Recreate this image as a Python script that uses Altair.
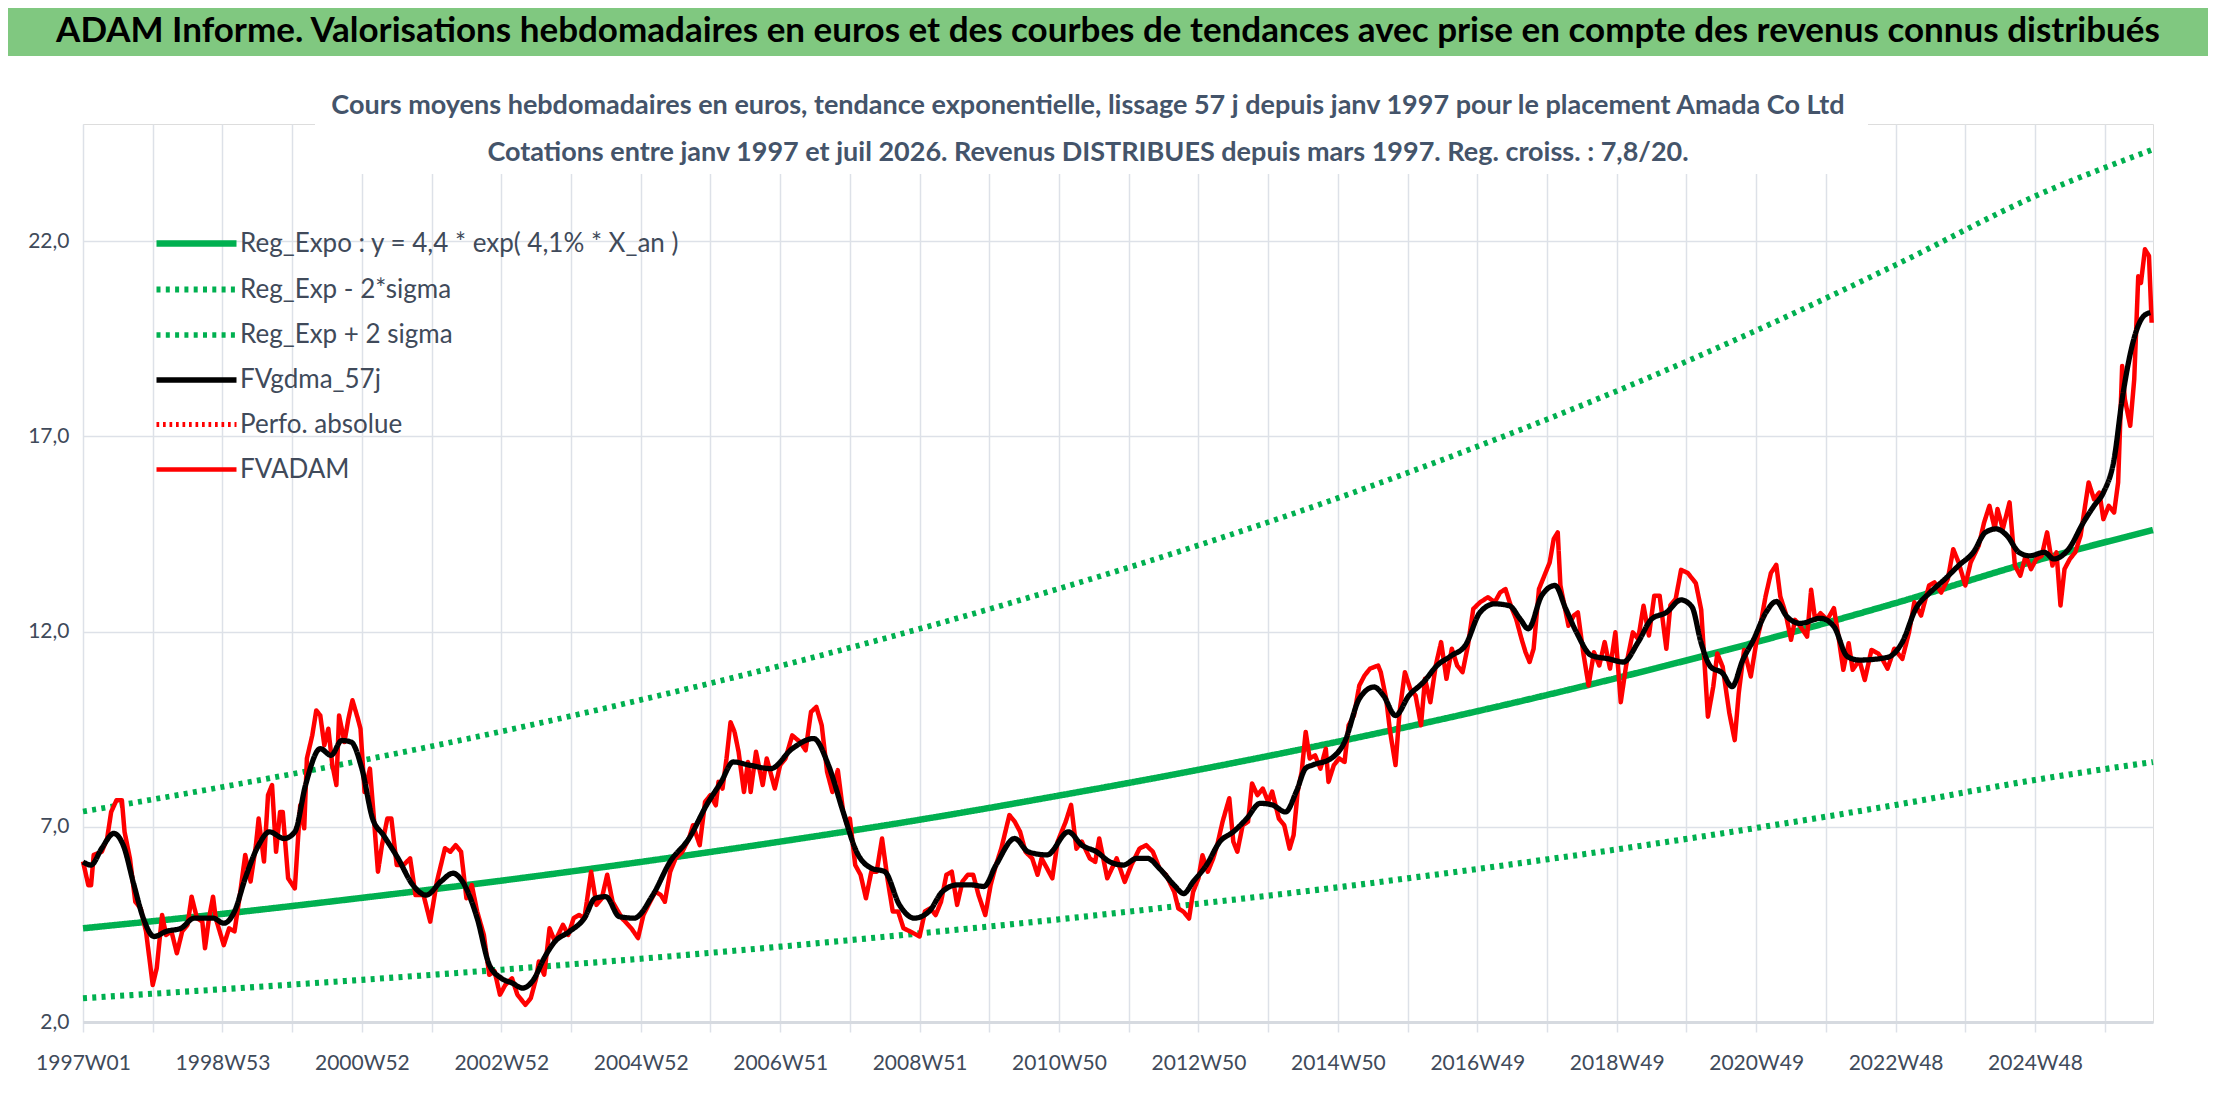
import json
import altair as alt
import pandas as pd

# texts
title_text = "ADAM Informe. Valorisations hebdomadaires en euros et des courbes de tendances avec prise en compte des revenus connus distribués"
subtitle_1 = "Cours moyens hebdomadaires en euros, tendance exponentielle, lissage 57 j depuis janv 1997 pour le placement Amada Co Ltd"
subtitle_2 = "Cotations entre janv 1997 et juil 2026. Revenus DISTRIBUES depuis mars 1997. Reg. croiss. : 7,8/20."

# x axis: week index since 1997W01, a label every 104 weeks
x_labels = ["1997W01", "1998W53", "2000W52", "2002W52", "2004W52", "2006W51", "2008W51",
            "2010W50", "2012W50", "2014W50", "2016W49", "2018W49", "2020W49", "2022W48", "2024W48"]
y_ticks = [2, 7, 12, 17, 22]

series_names = ["Reg_Expo : y = 4,4 * exp( 4,1% *  X_an )", "Reg_Exp - 2*sigma", "Reg_Exp + 2 sigma",
                "FVgdma_57j", "Perfo. absolue", "FVADAM"]
series_colors = ["#00b050", "#00b050", "#00b050", "#000000", "#ff0000", "#ff0000"]
series_widths = [6.5, 4.5, 4.5, 4.5, 2.8, 7]
series_dash = [[1, 0], [4, 5.3], [4, 5.3], [1, 0], [2.7, 3.8], [1, 0]]

# trend curves (read at every label position)
trend_weeks = [0, 104, 208, 312, 416, 520, 624, 728, 832, 936, 1040, 1144, 1248, 1352, 1456, 1544]
trend_mid = [4.40, 4.77, 5.18, 5.62, 6.10, 6.62, 7.18, 7.80, 8.46, 9.18, 9.96, 10.81, 11.73, 12.73, 13.81, 14.60]
trend_low = [2.61, 2.84, 3.08, 3.34, 3.62, 3.93, 4.27, 4.63, 5.03, 5.45, 5.92, 6.42, 6.97, 7.56, 8.20, 8.66]
trend_high = [7.39, 8.02, 8.70, 9.44, 10.25, 11.12, 12.07, 13.10, 14.21, 15.42, 16.74, 18.16, 19.71, 21.39, 23.15, 24.35]

# FVADAM weekly prices (sampled)
adam_weeks = [0, 4, 6, 8, 14, 18, 21, 25, 29, 31, 35, 39, 43, 47, 52, 55, 59, 62, 66, 70, 74, 78, 81, 85, 89, 91,
              94, 97, 99, 105, 109, 113, 117, 121, 125, 129, 131, 135, 138, 141, 144, 147, 149, 153, 158, 162, 165,
              167, 171, 174, 177, 180, 183, 186, 189, 191, 195, 198, 201, 205, 207, 210, 214, 217, 220, 223, 227,
              230, 234, 239, 244, 248, 254, 259, 264, 270, 274, 278, 282, 286, 290, 294, 299, 303, 307, 311, 315,
              320, 324, 330, 334, 338, 340, 344, 348, 352, 358, 362, 366, 370, 374, 379, 383, 387, 391, 395, 402,
              409, 414, 418, 423, 427, 431, 434, 438, 442, 447, 452, 455, 460, 464, 468, 472, 474, 477, 480, 483,
              486, 489, 493, 496, 498, 502, 507, 510, 516, 520, 524, 529, 535, 539, 543, 547, 551, 555, 559, 563,
              567, 570, 572, 576, 580, 584, 588, 592, 596, 600, 604, 608, 612, 617, 624, 628, 632, 636, 640, 644,
              648, 652, 656, 660, 664, 668, 673, 677, 681, 685, 691, 695, 699, 703, 708, 712, 715, 719, 723, 727,
              733, 737, 741, 745, 751, 755, 758, 764, 771, 777, 782, 788, 793, 798, 803, 808, 814, 817, 821, 825,
              828, 832, 835, 839, 843, 846, 850, 855, 858, 861, 865, 869, 872, 876, 880, 884, 887, 892, 896, 900,
              903, 906, 909, 912, 915, 919, 923, 927, 929, 933, 937, 941, 944, 948, 952, 956, 960, 966, 968, 972,
              975, 979, 982, 986, 990, 994, 998, 1001, 1005, 1009, 1013, 1017, 1021, 1025, 1029, 1033, 1037, 1042,
              1048, 1053, 1057, 1061, 1065, 1069, 1073, 1076, 1079, 1082, 1086, 1090, 1094, 1097, 1100, 1102, 1105,
              1108, 1112, 1115, 1119, 1123, 1127, 1131, 1135, 1139, 1143, 1147, 1151, 1156, 1160, 1164, 1168, 1172,
              1176, 1181, 1184, 1188, 1192, 1197, 1203, 1207, 1212, 1216, 1219, 1223, 1228, 1232, 1235, 1239, 1244,
              1248, 1251, 1255, 1259, 1263, 1266, 1270, 1274, 1277, 1281, 1286, 1289, 1292, 1296, 1301, 1306, 1309,
              1313, 1317, 1320, 1325, 1329, 1334, 1339, 1342, 1346, 1351, 1357, 1362, 1366, 1371, 1377, 1381, 1386,
              1391, 1395, 1399, 1404, 1408, 1414, 1418, 1422, 1426, 1428, 1432, 1437, 1441, 1445, 1449, 1453, 1457,
              1461, 1465, 1469, 1472, 1475, 1478, 1482, 1486, 1490, 1493, 1496, 1500, 1504, 1507, 1511, 1515, 1518,
              1521, 1523, 1527, 1530, 1533, 1535, 1538, 1541, 1543]
adam_vals = [6.11, 5.50, 5.50, 6.28, 6.36, 6.70, 7.38, 7.68, 7.68, 6.87, 6.19, 5.08, 4.91, 4.32, 2.95, 3.38, 4.74,
             4.23, 4.32, 3.76, 4.32, 4.49, 5.21, 4.66, 4.57, 3.89, 4.66, 5.21, 4.66, 3.97, 4.40, 4.32, 5.25, 6.28,
             5.60, 6.53, 7.21, 6.11, 7.81, 8.07, 6.36, 7.38, 7.38, 5.68, 5.42, 7.55, 6.96, 8.75, 9.34, 9.98, 9.85,
             9.09, 9.51, 8.58, 8.07, 9.85, 9.17, 9.77, 10.24, 9.77, 9.51, 7.89, 8.49, 7.21, 5.85, 6.53, 7.21, 7.21,
             6.02, 6.02, 6.19, 5.25, 5.25, 4.57, 5.60, 6.45, 6.36, 6.53, 6.36, 5.17, 5.51, 4.83, 4.23, 3.21, 3.30,
             2.70, 2.95, 3.12, 2.70, 2.44, 2.61, 3.12, 3.55, 3.21, 4.40, 4.06, 4.49, 4.23, 4.66, 4.74, 4.66, 5.85,
             5.00, 5.17, 5.77, 5.08, 4.66, 4.40, 4.15, 4.74, 5.08, 5.34, 5.25, 5.08, 5.85, 6.19, 6.36, 6.70, 7.04,
             6.53, 7.64, 7.81, 7.55, 8.15, 7.98, 8.75, 9.68, 9.43, 8.92, 7.89, 8.66, 7.89, 8.92, 8.07, 8.75, 7.98,
             8.58, 8.75, 9.34, 9.17, 8.96, 9.94, 10.07, 9.60, 8.41, 7.89, 8.45, 7.38, 7.04, 7.21, 6.02, 5.77, 5.17,
             5.85, 5.85, 6.70, 5.68, 4.83, 4.83, 4.40, 4.32, 4.19, 4.83, 4.91, 4.74, 5.08, 5.77, 5.85, 5.00, 5.60,
             5.77, 5.77, 5.25, 4.74, 5.51, 6.02, 6.45, 7.30, 7.13, 6.87, 6.36, 6.19, 5.77, 6.19, 5.94, 5.68, 6.62,
             7.13, 7.56, 6.44, 6.62, 6.19, 6.10, 6.70, 5.68, 6.19, 5.59, 6.02, 6.44, 6.53, 6.36, 5.93, 5.76, 5.33,
             4.91, 4.82, 4.65, 5.33, 5.68, 6.27, 5.85, 6.19, 6.53, 7.13, 7.73, 6.62, 6.36, 7.04, 7.13, 8.11, 7.81,
             7.98, 7.64, 7.90, 7.21, 7.04, 6.44, 6.79, 7.90, 8.41, 9.43, 8.75, 8.83, 8.49, 9.00, 8.15, 8.58, 8.75,
             8.66, 9.60, 9.85, 10.62, 10.88, 11.05, 11.13, 10.96, 10.28, 9.43, 8.58, 9.94, 10.96, 10.53, 10.36,
             9.60, 10.79, 10.19, 11.13, 11.73, 10.79, 11.56, 11.13, 10.96, 11.64, 12.58, 12.75, 12.88, 12.75,
             13.00, 13.09, 12.66, 12.32, 11.81, 11.47, 11.22, 11.56, 13.09, 13.43, 13.77, 14.37, 14.54, 13.18,
             12.66, 12.15, 12.41, 12.49, 11.47, 10.62, 11.47, 11.13, 11.73, 11.05, 11.98, 10.19, 11.13, 11.98,
             11.81, 12.66, 11.90, 12.92, 12.92, 11.56, 12.67, 12.84, 13.58, 13.50, 13.24, 12.56, 9.82, 10.59,
             11.44, 11.10, 9.91, 9.22, 10.42, 11.53, 10.85, 11.70, 12.13, 12.90, 13.50, 13.71, 12.90, 12.47,
             11.79, 12.30, 12.13, 11.87, 13.07, 12.30, 12.47, 12.30, 12.60, 11.96, 11.02, 11.70, 11.02, 11.27,
             10.76, 11.53, 11.44, 11.30, 11.05, 11.56, 11.30, 11.98, 12.75, 12.41, 13.18, 13.26, 13.00, 13.35,
             14.11, 13.77, 13.18, 13.77, 14.20, 14.79, 15.22, 14.63, 15.14, 14.63, 15.31, 13.69, 13.43, 13.94,
             13.60, 13.86, 13.94, 14.54, 13.69, 14.03, 12.67, 13.60, 13.86, 14.03, 14.46, 15.14, 15.82, 15.39,
             15.56, 14.88, 15.22, 15.05, 15.82, 18.80, 17.95, 17.27, 18.46, 21.10, 20.93, 21.79, 21.62, 19.91]

# FVgdma_57j smoothed curve (sampled)
gdma_weeks = [0, 6, 14, 23, 30, 38, 45, 53, 62, 73, 83, 97, 105, 113, 121, 131, 139, 150, 158, 166, 177, 185, 193,
              200, 208, 216, 224, 235, 246, 256, 267, 276, 283, 294, 303, 312, 320, 328, 336, 344, 352, 363, 374,
              382, 390, 400, 411, 425, 438, 452, 465, 476, 485, 497, 513, 529, 545, 556, 567, 577, 588, 598, 609,
              620, 631, 641, 652, 663, 672, 681, 695, 705, 719, 735, 745, 756, 766, 776, 786, 794, 803, 814, 821,
              828, 838, 848, 858, 868, 878, 887, 897, 905, 912, 917, 931, 941, 952, 963, 970, 979, 989, 1000, 1010,
              1021, 1031, 1042, 1053, 1064, 1072, 1078, 1088, 1098, 1106, 1114, 1125, 1138, 1149, 1160, 1170, 1181,
              1192, 1200, 1207, 1214, 1223, 1230, 1238, 1246, 1255, 1263, 1271, 1281, 1296, 1306, 1316, 1325, 1346,
              1357, 1367, 1378, 1389, 1399, 1410, 1419, 1427, 1435, 1444, 1452, 1463, 1470, 1481, 1492, 1500, 1507,
              1515, 1521, 1529, 1537, 1542]
gdma_vals = [6.10, 6.02, 6.45, 6.83, 6.53, 5.51, 4.66, 4.19, 4.32, 4.40, 4.66, 4.66, 4.53, 4.83, 5.68, 6.53, 6.87,
             6.70, 6.87, 8.07, 9.00, 8.83, 9.21, 9.17, 8.49, 7.21, 6.79, 6.19, 5.51, 5.25, 5.60, 5.81, 5.60, 4.66,
             3.47, 3.12, 3.00, 2.87, 3.08, 3.64, 4.06, 4.32, 4.66, 5.17, 5.21, 4.70, 4.66, 5.25, 6.11, 6.70, 7.55,
             8.15, 8.66, 8.58, 8.49, 9.00, 9.26, 8.58, 7.38, 6.36, 5.94, 5.85, 5.00, 4.66, 4.83, 5.34, 5.51, 5.51,
             5.47, 6.02, 6.70, 6.36, 6.28, 6.87, 6.53, 6.36, 6.10, 6.02, 6.19, 6.19, 5.93, 5.50, 5.29, 5.59, 6.02,
             6.62, 6.87, 7.21, 7.60, 7.56, 7.38, 7.90, 8.50, 8.58, 8.75, 9.17, 10.28, 10.58, 10.36, 9.85, 10.36,
             10.71, 11.13, 11.39, 11.64, 12.49, 12.71, 12.66, 12.32, 12.07, 12.92, 13.18, 12.58, 11.98, 11.39,
             11.30, 11.22, 11.73, 12.32, 12.49, 12.81, 12.64, 11.70, 11.10, 10.93, 10.59, 11.27, 11.79, 12.47,
             12.77, 12.38, 12.21, 12.34, 12.13, 11.36, 11.27, 11.34, 11.73, 12.58, 13.01, 13.35, 13.69, 14.03,
             14.54, 14.63, 14.46, 14.03, 13.94, 14.03, 13.86, 14.11, 14.79, 15.22, 15.56, 16.42, 17.95, 19.40,
             20.08, 20.17]

rows = []
for name, vals in [(series_names[0], trend_mid), (series_names[1], trend_low), (series_names[2], trend_high)]:
    rows += [{"week": w, "value": v, "serie": name, "kind": "trend"} for w, v in zip(trend_weeks, vals)]
rows += [{"week": w, "value": v, "serie": series_names[5], "kind": "adam"} for w, v in zip(adam_weeks, adam_vals)]
rows += [{"week": w, "value": v, "serie": series_names[3], "kind": "gdma"} for w, v in zip(gdma_weeks, gdma_vals)]
df = pd.DataFrame(rows)

FONT = "Lato"
TXT = "#404a5a"
GRID = "#dde1e8"

label_expr = "datum.value % 104 == 0 ? " + json.dumps(x_labels) + "[datum.value / 104] : ''"

x_enc = alt.X("week:Q", title=None,
              scale=alt.Scale(domain=[0, 1544], nice=False, zero=False),
              axis=alt.Axis(values=list(range(0, 1509, 52)), labelExpr=label_expr, grid=True,
                            gridColor=GRID, gridWidth=1.5, tickColor=GRID, tickWidth=1.5, tickSize=10,
                            domainColor="#d6dae0", domainWidth=3, labelFlush=False, labelOverlap=False,
                            labelFont=FONT, labelFontSize=21, labelColor=TXT, labelPadding=20))
y_enc = alt.Y("value:Q", title=None,
              scale=alt.Scale(domain=[2, 25], nice=False, zero=False),
              axis=alt.Axis(values=y_ticks, labelExpr="replace(format(datum.value, '.1f'), '.', ',')",
                            grid=True, gridColor=GRID, gridWidth=1.5, domain=False, ticks=False,
                            labelFont=FONT, labelFontSize=21, labelColor=TXT, labelPadding=14))
# wide custom stroke symbol so the legend rows stay compact
legend = alt.Legend(orient="none", legendX=90, legendY=96, title=None, symbolType="M-2,0L2,0",
                    symbolSize=1600, labelFont=FONT, labelFontSize=26, labelColor=TXT, rowPadding=9,
                    labelLimit=0, labelOffset=20)
color_enc = alt.Color("serie:N", scale=alt.Scale(domain=series_names, range=series_colors), legend=legend)
dash_enc = alt.StrokeDash("serie:N", scale=alt.Scale(domain=series_names, range=series_dash), legend=legend)
width_enc = alt.StrokeWidth("serie:N", scale=alt.Scale(domain=series_names, range=series_widths), legend=legend)

base = alt.Chart(df).encode(x=x_enc, y=y_enc, color=color_enc, strokeDash=dash_enc, strokeWidth=width_enc)

trend_lines = base.transform_filter(alt.datum.kind == "trend").mark_line(interpolate="monotone")
adam_line = base.transform_filter(alt.datum.kind == "adam").mark_line(strokeJoin="round")
gdma_line = base.transform_filter(alt.datum.kind == "gdma").mark_line(interpolate="monotone")

one = pd.DataFrame({"t": [title_text], "s1": [subtitle_1], "s2": [subtitle_2]})
band = alt.Chart(one).mark_rect(color="#80c880").encode(
    x=alt.value(-75), x2=alt.value(2125), y=alt.value(-116), y2=alt.value(-68))
sub_box = alt.Chart(one).mark_rect(color="white").encode(
    x=alt.value(232), x2=alt.value(1785), y=alt.value(-4), y2=alt.value(50))
title_mark = alt.Chart(one).mark_text(font=FONT, fontSize=35, fontWeight="bold", color="black").encode(
    text="t:N", x=alt.value(1025), y=alt.value(-93))
sub1_mark = alt.Chart(one).mark_text(font=FONT, fontSize=27, fontWeight="bold", color="#44546a").encode(
    text="s1:N", x=alt.value(1005), y=alt.value(-18))
sub2_mark = alt.Chart(one).mark_text(font=FONT, fontSize=27, fontWeight="bold", color="#44546a").encode(
    text="s2:N", x=alt.value(1005), y=alt.value(29))

chart = alt.layer(band, sub_box, trend_lines, adam_line, gdma_line, title_mark, sub1_mark, sub2_mark).properties(
    width=2070, height=898,
    autosize=alt.AutoSizeParams(type="none"),
    padding={"left": 75, "top": 116, "right": 55, "bottom": 76},
).configure_view(stroke=None).configure(background="white")

chart.save("out.html", embed_options={"renderer": "svg", "actions": False})
